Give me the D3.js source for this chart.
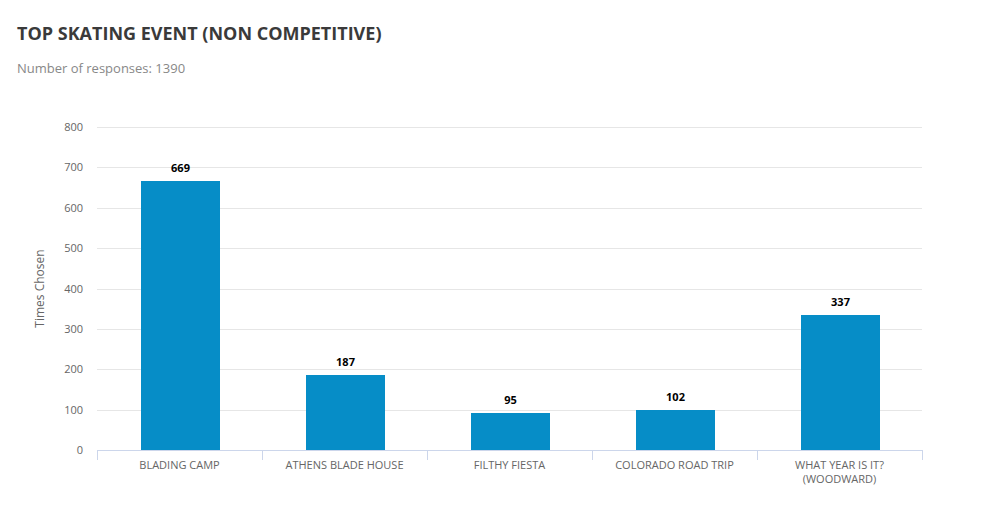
<!DOCTYPE html>
<html><head><meta charset="utf-8">
<script src="https://cdn.jsdelivr.net/npm/d3@7"></script>
<style>
body{margin:0;background:#fff;font-family:"Open Sans",sans-serif;}
svg{display:block}
</style></head>
<body><svg id="c" width="997" height="519"></svg>
<script>
const categories = ["BLADING CAMP","ATHENS BLADE HOUSE","FILTHY FIESTA","COLORADO ROAD TRIP","WHAT YEAR IS IT? (WOODWARD)"];
const labelLines = [["BLADING CAMP"],["ATHENS BLADE HOUSE"],["FILTHY FIESTA"],["COLORADO ROAD TRIP"],["WHAT YEAR IS IT?","(WOODWARD)"]];
const values = [669,187,95,102,337];
const yTicks = [0,100,200,300,400,500,600,700,800];
const title = "TOP SKATING EVENT (NON COMPETITIVE)";
const subtitle = "Number of responses: 1390";
const yTitle = "Times Chosen";

const svg = d3.select("#c");
const m = {left:97, right:922, top:127, bottom:450};
const x = d3.scaleBand().domain(categories).range([m.left,m.right]).paddingInner(0).paddingOuter(0);
const y = d3.scaleLinear().domain([0,800]).range([m.bottom,m.top]);

svg.append("text").attr("x",17).attr("y",40).attr("font-size",18).attr("font-weight",700)
  .attr("fill","#3a3a3a").text(title);
svg.append("text").attr("x",17).attr("y",73).attr("font-size",13).attr("fill","#888").text(subtitle);

// grid
svg.append("g").selectAll("line").data(yTicks.filter(d=>d>0)).join("line")
  .attr("x1",m.left).attr("x2",m.right).attr("y1",d=>Math.round(y(d))+0.5).attr("y2",d=>Math.round(y(d))+0.5)
  .attr("stroke","#e6e6e6").attr("stroke-width",1);

// y axis labels
const ya = svg.append("g").attr("transform",`translate(${m.left},0)`)
  .call(d3.axisLeft(y).tickValues(yTicks).tickSize(0).tickPadding(14));
ya.select(".domain").remove();
ya.selectAll("text").attr("font-family","Open Sans").attr("font-size",11).attr("fill","#666");

svg.append("text").attr("transform",`translate(44,${(m.top+m.bottom)/2}) rotate(-90)`)
  .attr("text-anchor","middle").attr("font-size",12).attr("fill","#666").text(yTitle);

// bars
const bw = 79;
svg.append("g").selectAll("rect").data(values).join("rect")
  .attr("x",(d,i)=>Math.round(x(categories[i])+x.bandwidth()/2-bw/2)+1)
  .attr("width",bw)
  .attr("y",d=>Math.round(y(d))+1).attr("height",d=>y(0)-Math.round(y(d))-1)
  .attr("fill","#068dc7");

svg.append("g").selectAll("text").data(values).join("text")
  .attr("x",(d,i)=>x(categories[i])+x.bandwidth()/2+1)
  .attr("y",d=>y(d)-8)
  .attr("text-anchor","middle").attr("font-size",11).attr("font-weight",700).attr("fill","#000")
  .text(d=>d);

// x axis
const xa = svg.append("g").attr("transform",`translate(0,${m.bottom})`)
  .call(d3.axisBottom(x).tickSize(0).tickFormat(""));
xa.select(".domain").attr("stroke","#ccd6eb").attr("d",`M${m.left},0.5H${m.right}`);
const edges = categories.map(c=>x(c)).concat([m.right]);
svg.append("g").selectAll("line").data(edges).join("line")
  .attr("x1",d=>Math.round(d)+0.5).attr("x2",d=>Math.round(d)+0.5)
  .attr("y1",m.bottom).attr("y2",m.bottom+10).attr("stroke","#ccd6eb");

const xl = svg.append("g").selectAll("text").data(categories).join("text")
  .attr("x",d=>x(d)+x.bandwidth()/2).attr("y",469)
  .attr("text-anchor","middle").attr("font-size",11).attr("fill","#666");
xl.each(function(d,i){
  const t=d3.select(this);
  labelLines[i].forEach((l,j)=>t.append("tspan").attr("x",x(d)+x.bandwidth()/2).attr("dy",j?14:0).text(l));
});
</script></body></html>
